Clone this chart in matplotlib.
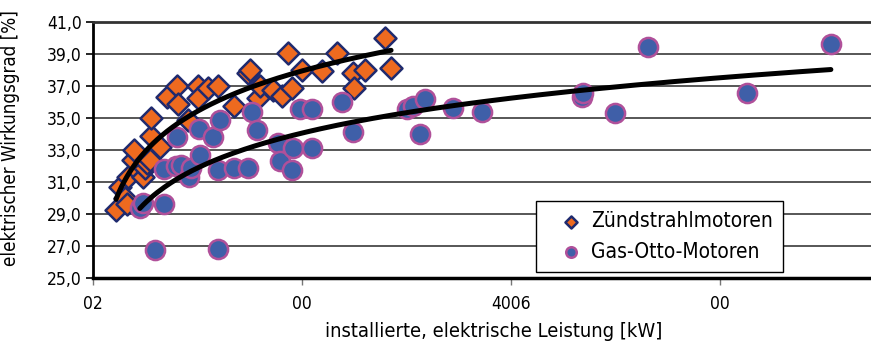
import matplotlib
matplotlib.use("Agg")
import matplotlib.pyplot as plt
import numpy as np

plt.rcParams['font.family'] = ['DejaVu Sans']
plt.rcParams['font.stretch'] = 'condensed'

# Zündstrahlmotoren: installed power (plot units) and efficiency [%]
zs_power = [55, 65, 77, 81, 84, 96, 98, 110, 120, 124, 129, 136, 139, 139, 160,
            177, 201, 203, 227, 251, 251, 275, 299, 337, 371, 376, 395, 400,
            431, 452, 466, 476, 500, 548, 584, 622, 624, 651, 698, 713]
zs_eff = [29.25, 30.7, 30.0, 29.6, 31.3, 32.4, 33.0, 31.6, 31.3, 31.9, 32.2,
          32.4, 33.9, 35.0, 33.2, 36.3, 37.0, 35.9, 34.9, 37.0, 36.25, 36.9,
          37.0, 35.75, 37.8, 38.0, 36.25, 37.0, 36.75, 36.4, 39.05, 36.9, 38.0,
          37.95, 39.05, 37.8, 36.9, 38.0, 40.0, 38.1]

# Gas-Otto-Motoren
go_power = [112, 120, 148, 170, 170, 199, 211, 230, 234, 256, 201, 254, 287,
            304, 299, 299, 337, 371, 380, 392, 443, 447, 476, 478, 495, 524,
            524, 596, 622, 751, 765, 794, 782, 861, 931, 1170, 1172, 1249,
            1328, 1564, 1765]
go_eff = [29.4, 29.7, 26.75, 29.6, 31.8, 32.0, 32.05, 31.3, 31.9, 32.7, 33.8,
          34.3, 33.8, 34.9, 31.75, 26.8, 31.9, 31.9, 35.4, 34.25, 33.45, 32.3,
          31.75, 33.1, 35.55, 35.55, 33.1, 36.0, 34.1, 35.55, 35.75, 36.2,
          34.0, 35.6, 35.4, 36.3, 36.55, 35.3, 39.45, 36.55, 39.6]

x_ticks = [0, 500, 1000, 1500]
x_ticklabels = ['02', '00', '4006', '00']
y_ticks = [25, 27, 29, 31, 33, 35, 37, 39, 41]


def log_trend(x, y):
    # logarithmic trendline y = a + b*ln(x) over the data range
    x = np.asarray(x, float)
    b, a = np.polyfit(np.log(x), np.asarray(y, float), 1)
    xs = np.linspace(x.min(), x.max(), 200)
    return xs, a + b * np.log(xs)


fig = plt.figure(figsize=(8.71, 3.44), dpi=100)
ax = fig.add_axes([93 / 871, 66 / 344, 778 / 871, 256 / 344])

ax.scatter(zs_power, zs_eff, marker='D', s=125, facecolor='#ee6a1f',
           edgecolor='#1f2a6e', linewidth=1.8, zorder=2,
           label='Zündstrahlmotoren')
ax.scatter(go_power, go_eff, marker='o', s=190, facecolor='#3f5fa8',
           edgecolor='#b0509a', linewidth=1.8, zorder=2,
           label='Gas-Otto-Motoren')

for xs, ys in (log_trend(zs_power, zs_eff), log_trend(go_power, go_eff)):
    ax.plot(xs, ys, color='black', linewidth=3.6, solid_capstyle='round',
            zorder=3)

ax.set_xlim(0, 1861)
ax.set_ylim(25, 41)
ax.set_yticks(y_ticks)
ax.set_yticklabels([f"{v},0" for v in y_ticks], fontsize=12.5)
ax.set_xticks(x_ticks)
ax.set_xticklabels(x_ticklabels, fontsize=12.5)
ax.tick_params(axis='y', length=5, width=1.2, pad=3)
ax.tick_params(axis='x', length=5, width=1, color='#777777', pad=7)

ax.yaxis.grid(True, color='#3a3a3a', linewidth=1.2)
ax.set_axisbelow(True)
ax.spines['right'].set_visible(False)
ax.spines['top'].set_linewidth(2)
ax.spines['top'].set_color('#333333')
ax.spines['left'].set_linewidth(2)
ax.spines['bottom'].set_linewidth(2.5)

ax.set_ylabel('elektrischer Wirkungsgrad [%]', fontsize=13.5)
ax.yaxis.set_label_coords(-0.094, 0.545)
ax.set_xlabel('installierte, elektrische Leistung [kW]', fontsize=14.5)
ax.xaxis.set_label_coords(0.515, -0.17)

leg = ax.legend(loc='lower right', bbox_to_anchor=(0.887, 0.023),
                borderaxespad=0, fontsize=15, fancybox=False,
                edgecolor='black', framealpha=1, markerscale=0.55,
                handlelength=2.37, handletextpad=-0.22,
                borderpad=0.5, labelspacing=0.5)
leg.get_frame().set_linewidth(1.0)

fig.savefig('out.png', dpi=100)
